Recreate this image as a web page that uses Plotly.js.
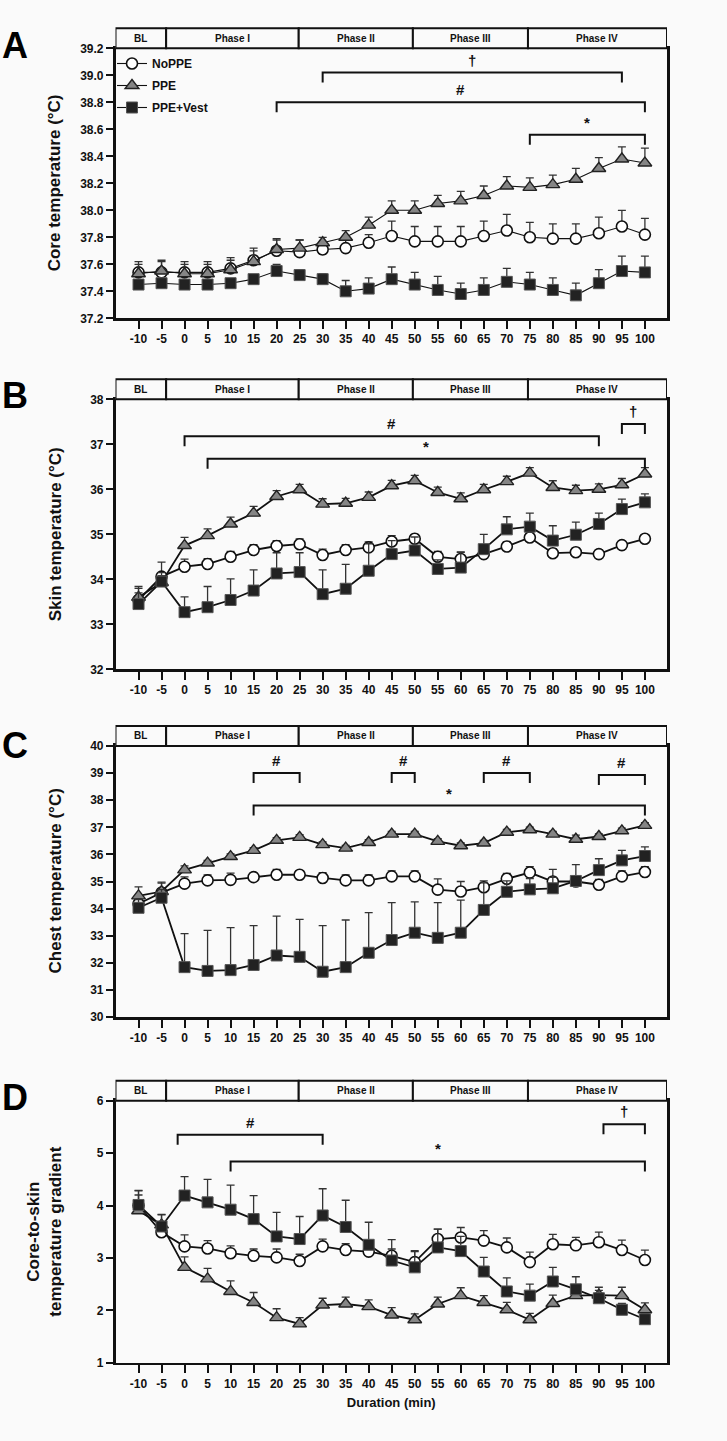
<!DOCTYPE html>
<html>
<head>
<meta charset="utf-8">
<script src="https://cdn.plot.ly/plotly-3.0.1.min.js"></script>
<style>html,body{margin:0;padding:0;background:#fafafa;}#chart{width:727px;height:1441px;}</style>
</head>
<body>
<div id="chart"></div>
<script>
// ---------------- DATA ----------------
const duration = [-10,-5,0,5,10,15,20,25,30,35,40,45,50,55,60,65,70,75,80,85,90,95,100];
const durationLabels = ['-10','-5','0','5','10','15','20','25','30','35','40','45','50','55','60','65','70','75','80','85','90','95','100'];
const seriesNames = ['NoPPE','PPE','PPE+Vest'];
const phaseLabels = ['BL','Phase I','Phase II','Phase III','Phase IV'];
const phaseEdges = [-15,-4,24.8,49.6,74.6,104.8];

// A: core temperature (°C)
const coreNoPPE    = [37.54,37.54,37.54,37.54,37.57,37.63,37.70,37.69,37.71,37.72,37.76,37.81,37.77,37.77,37.77,37.81,37.85,37.80,37.79,37.79,37.83,37.88,37.82];
const coreNoPPEErr = [0.08,0.09,0.08,0.08,0.08,0.09,0.08,0.09,0.05,0.06,0.06,0.11,0.11,0.11,0.11,0.11,0.12,0.11,0.11,0.11,0.12,0.12,0.12];
const corePPE      = [37.53,37.55,37.53,37.53,37.56,37.62,37.71,37.72,37.76,37.80,37.89,38.00,38.00,38.05,38.07,38.11,38.18,38.17,38.19,38.23,38.31,38.38,38.35];
const corePPEErr   = [0.07,0.07,0.07,0.07,0.07,0.08,0.08,0.06,0.04,0.05,0.06,0.07,0.07,0.06,0.07,0.07,0.07,0.07,0.07,0.08,0.08,0.09,0.11];
const coreVest     = [37.45,37.46,37.45,37.45,37.46,37.49,37.55,37.52,37.49,37.40,37.42,37.49,37.45,37.41,37.38,37.41,37.47,37.45,37.41,37.37,37.46,37.55,37.54];
const coreVestErr  = [0.03,0.03,0.03,0.03,0.03,0.03,0.05,0.04,0.04,0.08,0.08,0.09,0.09,0.10,0.08,0.09,0.10,0.09,0.09,0.09,0.10,0.11,0.12];

// B: skin temperature (°C)
const skinNoPPE    = [33.54,34.06,34.28,34.34,34.50,34.65,34.74,34.78,34.54,34.65,34.71,34.84,34.90,34.50,34.45,34.56,34.73,34.93,34.58,34.60,34.56,34.76,34.90];
const skinNoPPEErr = [0.30,0.32,0.17,0.12,0.12,0.12,0.12,0.12,0.13,0.12,0.12,0.13,0.10,0.12,0.15,0.12,0.10,0.10,0.10,0.10,0.10,0.08,0.08];
const skinPPE      = [33.60,33.93,34.75,34.97,35.23,35.47,35.84,35.99,35.67,35.69,35.82,36.08,36.19,35.93,35.79,35.99,36.17,36.36,36.04,35.97,36.00,36.10,36.34];
const skinPPEErr   = [0.20,0.15,0.18,0.15,0.15,0.15,0.13,0.12,0.12,0.11,0.12,0.12,0.12,0.12,0.13,0.12,0.12,0.12,0.15,0.12,0.12,0.14,0.14];
const skinVest     = [33.45,33.95,33.27,33.38,33.54,33.75,34.13,34.16,33.67,33.79,34.19,34.56,34.64,34.23,34.26,34.67,35.11,35.17,34.86,34.99,35.23,35.56,35.71];
const skinVestErr  = [0.25,0.20,0.34,0.46,0.47,0.46,0.46,0.43,0.54,0.54,0.60,0.30,0.30,0.20,0.35,0.33,0.28,0.30,0.33,0.28,0.24,0.22,0.19];

// C: chest temperature (°C)
const chestNoPPE    = [34.18,34.59,34.92,35.04,35.06,35.16,35.25,35.25,35.13,35.04,35.04,35.19,35.19,34.70,34.63,34.79,35.10,35.33,35.00,35.00,34.88,35.19,35.35];
const chestNoPPEErr = [0.30,0.35,0.25,0.20,0.25,0.15,0.20,0.15,0.20,0.20,0.20,0.20,0.20,0.40,0.37,0.23,0.20,0.22,0.45,0.20,0.20,0.20,0.20];
const chestPPE      = [34.47,34.63,35.43,35.68,35.92,36.15,36.52,36.63,36.36,36.23,36.44,36.75,36.75,36.48,36.32,36.42,36.82,36.91,36.75,36.56,36.66,36.87,37.07];
const chestPPEErr   = [0.33,0.35,0.15,0.10,0.10,0.10,0.10,0.10,0.10,0.10,0.10,0.10,0.10,0.10,0.10,0.10,0.10,0.10,0.10,0.15,0.10,0.10,0.10];
const chestVest     = [34.03,34.40,31.84,31.70,31.73,31.92,32.27,32.22,31.67,31.84,32.37,32.84,33.11,32.92,33.11,33.95,34.62,34.71,34.75,35.02,35.42,35.78,35.94];
const chestVestErr  = [0.30,0.30,1.24,1.50,1.57,1.45,1.45,1.38,1.70,1.74,1.48,1.38,1.14,1.30,1.20,1.00,0.40,0.40,0.40,0.60,0.42,0.37,0.34];

// D: core-to-skin temperature gradient
const gradNoPPE    = [4.00,3.49,3.22,3.18,3.09,3.04,3.01,2.94,3.22,3.15,3.12,3.04,2.92,3.36,3.39,3.33,3.20,2.92,3.26,3.24,3.30,3.15,2.96];
const gradNoPPEErr = [0.29,0.15,0.22,0.15,0.14,0.13,0.16,0.13,0.14,0.12,0.13,0.13,0.20,0.19,0.19,0.19,0.18,0.19,0.19,0.15,0.19,0.19,0.19];
const gradPPE      = [3.90,3.63,2.82,2.60,2.36,2.15,1.86,1.74,2.10,2.12,2.07,1.91,1.82,2.12,2.28,2.15,2.01,1.82,2.13,2.28,2.29,2.28,2.01];
const gradPPEErr   = [0.30,0.20,0.20,0.20,0.20,0.19,0.17,0.12,0.13,0.13,0.13,0.14,0.11,0.13,0.15,0.13,0.14,0.12,0.16,0.17,0.15,0.16,0.13];
const gradVest     = [4.01,3.60,4.19,4.06,3.92,3.74,3.41,3.36,3.81,3.59,3.25,2.95,2.82,3.20,3.13,2.74,2.36,2.28,2.55,2.40,2.23,2.01,1.83];
const gradVestErr  = [0.27,0.22,0.36,0.44,0.47,0.45,0.46,0.43,0.51,0.51,0.43,0.40,0.32,0.35,0.28,0.27,0.26,0.22,0.27,0.24,0.15,0.12,0.10];

// significance brackets: [from, to, level, label]
const bracketsA = [[30,95,39.02,'†'],[20,100,38.80,'#'],[75,100,38.56,'*']];
const bracketsB = [[0,90,37.18,'#'],[5,100,36.68,'*'],[95,100,37.45,'†']];
const bracketsC = [[15,25,39.0,'#'],[45,50,39.0,'#'],[65,75,39.0,'#'],[90,100,38.93,'#'],[15,100,37.8,'*']];
const bracketsD = [[-1.5,30,5.35,'#'],[10,100,4.84,'*'],[91,100,5.55,'†']];

// axis ticks
const yTicksA = [37.2,37.4,37.6,37.8,38.0,38.2,38.4,38.6,38.8,39.0,39.2];
const yTicksB = [32,33,34,35,36,37,38];
const yTicksC = [30,31,32,33,34,35,36,37,38,39,40];
const yTicksD = [1,2,3,4,5,6];
const yTitles = ['Core temperature (°C)','Skin temperature (°C)','Chest temperature (°C)','Core-to-skin<br>temperature gradient'];
const panelLetters = ['A','B','C','D'];
const xTitle = 'Duration (min)';

// ---------------- LAYOUT / STYLE ----------------
const W = 727, H = 1441;
const FN = '"Liberation Sans", Arial, sans-serif';
const FW = '"Liberation Sans", Arial, sans-serif';
const INK = '#111';
const px = v => v / W;
const py = v => 1 - v / H;
const plotL = 115.5, plotR = 667;
const panels = [
  {top:48.3,  bot:318.3,  range:[37.2,39.2], ticks:yTicksA, fmt:'.1f', data:[[coreNoPPE,coreNoPPEErr],[corePPE,corePPEErr],[coreVest,coreVestErr]], br:bracketsA, letterY:46, titleX:54, lw:1.1},
  {top:399.3, bot:669.3,  range:[32,38],     ticks:yTicksB, fmt:'d',   data:[[skinNoPPE,skinNoPPEErr],[skinPPE,skinPPEErr],[skinVest,skinVestErr]], br:bracketsB, letterY:395, titleX:55, lw:1.8},
  {top:746,   bot:1017,   range:[30,40],     ticks:yTicksC, fmt:'d',   data:[[chestNoPPE,chestNoPPEErr],[chestPPE,chestPPEErr],[chestVest,chestVestErr]], br:bracketsC, letterY:745, titleX:55, lw:1.8},
  {top:1100.7,bot:1362.7, range:[1,6],       ticks:yTicksD, fmt:'d',   data:[[gradNoPPE,gradNoPPEErr],[gradPPE,gradPPEErr],[gradVest,gradVestErr]], br:bracketsD, letterY:1097, titleX:45, lw:1.8}
];
const markerStyles = [
  {symbol:'circle', size:11, color:'#ffffff', line:{color:INK, width:1.6}},
  {symbol:'triangle-up', size:12, color:'#858585', line:{color:'#222', width:1.4}},
  {symbol:'square', size:11, color:'#222222', line:{color:'#555', width:1}}
];

const traces = [], shapes = [], annotations = [];
const layout = {
  width: W, height: H,
  margin: {l:0, r:0, t:0, b:0},
  paper_bgcolor: '#fafafa', plot_bgcolor: '#fafafa',
  showlegend: true,
  legend: {x: px(112), y: py(49), xanchor:'left', yanchor:'top', bgcolor:'rgba(0,0,0,0)',
           font:{family:FN, size:12, color:INK, weight:'bold'}, tracegroupgap:3, itemwidth:30},
  font: {family: FN, color: INK}
};

panels.forEach((p, i) => {
  const n = i === 0 ? '' : String(i + 1);
  const xa = 'x' + n, ya = 'y' + n;
  layout['xaxis' + n] = {
    domain: [px(plotL), px(plotR)], anchor: ya, range: [-15, 104.8],
    tickvals: duration, ticktext: durationLabels, tickangle: 0,
    ticks: 'outside', ticklen: 8, tickwidth: 2, tickcolor: INK,
    showline: true, linewidth: 2.6, linecolor: INK, mirror: true,
    showgrid: false, zeroline: false, fixedrange: true,
    tickfont: {family: FN, size: 12, color: INK, weight: 'bold'}
  };
  if (i === 3) layout['xaxis' + n].title = {text: xTitle, standoff: 8, font: {family: FN, size: 13, color: INK, weight: 'bold'}};
  layout['yaxis' + n] = {
    domain: [py(p.bot), py(p.top)], anchor: xa, range: p.range,
    tickvals: p.ticks, tickformat: p.fmt, ticks: 'outside', ticklen: 7, tickwidth: 2, tickcolor: INK,
    showline: true, linewidth: 2.6, linecolor: INK, mirror: true,
    showgrid: false, zeroline: false, fixedrange: true,
    tickfont: {family: FN, size: 12, color: INK, weight: 'bold'}
  };

  // series
  p.data.forEach((d, k) => {
    traces.push({
      type: 'scatter', mode: 'lines+markers', x: duration, y: d[0],
      xaxis: xa, yaxis: ya, name: seriesNames[k], showlegend: i === 0, legendgroup: seriesNames[k],
      line: {color: INK, width: p.lw},
      marker: markerStyles[k],
      error_y: {type: 'data', symmetric: false, array: d[1], arrayminus: d[1].map(() => 0),
                color: '#333', thickness: 1.3, width: 4}
    });
  });

  // phase bar
  const barTop = p.top - 20;
  for (let j = 0; j < phaseLabels.length; j++) {
    shapes.push({type: 'rect', xref: xa, yref: 'paper', x0: phaseEdges[j], x1: phaseEdges[j + 1],
                 y0: py(p.top), y1: py(barTop), line: {color: INK, width: 2}, fillcolor: '#fafafa', layer: 'above'});
    annotations.push({xref: xa, yref: 'paper', x: (phaseEdges[j] + phaseEdges[j + 1]) / 2, y: py((p.top + barTop) / 2),
                      text: phaseLabels[j], showarrow: false, xanchor: 'center', yanchor: 'middle',
                      font: {family: FN, size: 10, color: INK, weight: 'bold'}});
  }

  // brackets
  const unitPerPx = (p.range[1] - p.range[0]) / (p.bot - p.top);
  const tip = 10 * unitPerPx;
  p.br.forEach(b => {
    shapes.push({type: 'path', xref: xa, yref: ya,
                 path: `M ${b[0]},${b[2] - tip} L ${b[0]},${b[2]} L ${b[1]},${b[2]} L ${b[1]},${b[2] - tip}`,
                 line: {color: INK, width: 2}});
    annotations.push({xref: xa, yref: ya, x: (b[0] + b[1]) / 2, y: b[2], yshift: 2,
                      text: b[3], showarrow: false, xanchor: 'center', yanchor: 'bottom',
                      font: {family: FN, size: 15, color: INK, weight: 'bold'}});
  });

  // y title
  annotations.push({xref: 'paper', yref: 'paper', x: px(p.titleX), y: py((p.top + p.bot) / 2),
                    text: yTitles[i], showarrow: false, textangle: -90, xanchor: 'center', yanchor: 'middle',
                    font: {family: FW, size: 17, color: INK, weight: 'bold'}});
  // panel letter
  annotations.push({xref: 'paper', yref: 'paper', x: px(15), y: py(p.letterY),
                    text: panelLetters[i], showarrow: false, xanchor: 'center', yanchor: 'middle',
                    font: {family: FN, size: 36, color: '#000', weight: 'bold'}});
});

layout.shapes = shapes;
layout.annotations = annotations;
Plotly.newPlot('chart', traces, layout, {staticPlot: true, displayModeBar: false});
</script>
</body>
</html>
